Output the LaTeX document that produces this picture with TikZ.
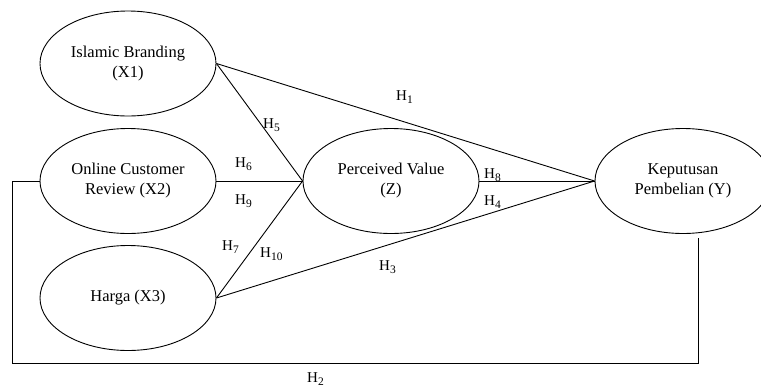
\documentclass[tikz,border=0pt]{standalone}
\usepackage{fontspec}
\setmainfont{Liberation Serif}
\usetikzlibrary{shapes.geometric}
\newcommand{\hyp}[1]{H\raisebox{-3.5pt}{\fontsize{11.5}{11.5}\selectfont #1}}
\begin{document}
\begin{tikzpicture}[x=1pt,y=-1pt,
  var/.style={ellipse, draw, line width=0.9pt, minimum width=176pt, minimum height=105pt,
    inner sep=0pt, align=center, font=\fontsize{16.5}{20}\selectfont},
  path/.style={line width=0.9pt},
  hlab/.style={anchor=base west, inner sep=0pt, font=\fontsize{15}{15}\selectfont}]
\clip (0,0) rectangle (761,389);
\fill[white] (0,0) rectangle (761,389);
\node[var] (x1) at (128,63.5) {Islamic Branding\\(X1)};
\node[var] (x2) at (128,181) {Online Customer\\Review (X2)};
\node[var] (x3) at (128,298) {Harga (X3)};
\node[var] (z) at (391,181) {Perceived Value\\(Z)};
\node[var] (y) at (683,181) {Keputusan\\Pembelian (Y)};
\draw[path] (x1.east) -- (y.west);
\draw[path] (x1.east) -- (z.west);
\draw[path] (x2.east) -- (z.west);
\draw[path] (x3.east) -- (z.west);
\draw[path] (x3.east) -- (y.west);
\draw[path] (z.east) -- (y.west);
\coordinate (fbl) at (12,181);
\coordinate (fbb) at (12,363);
\coordinate (fbr) at (698,363);
\coordinate (fbe) at (698,238);
\draw[path] (x2.west) -- (fbl) -- (fbb) -- (fbr) -- (fbe);
\node[hlab] (h1) at (396,100) {\hyp{1}};
\node[hlab] (h5) at (263,128) {\hyp{5}};
\node[hlab] (h6) at (235,167) {\hyp{6}};
\node[hlab] (h9) at (235,204) {\hyp{9}};
\node[hlab] (h7) at (222,250) {\hyp{7}};
\node[hlab] (h10) at (260,257) {\hyp{10}};
\node[hlab] (h8) at (484,178) {\hyp{8}};
\node[hlab] (h4) at (484,205) {\hyp{4}};
\node[hlab] (h3) at (379,270) {\hyp{3}};
\node[hlab] (h2) at (307,382) {\hyp{2}};
\end{tikzpicture}
\end{document}
